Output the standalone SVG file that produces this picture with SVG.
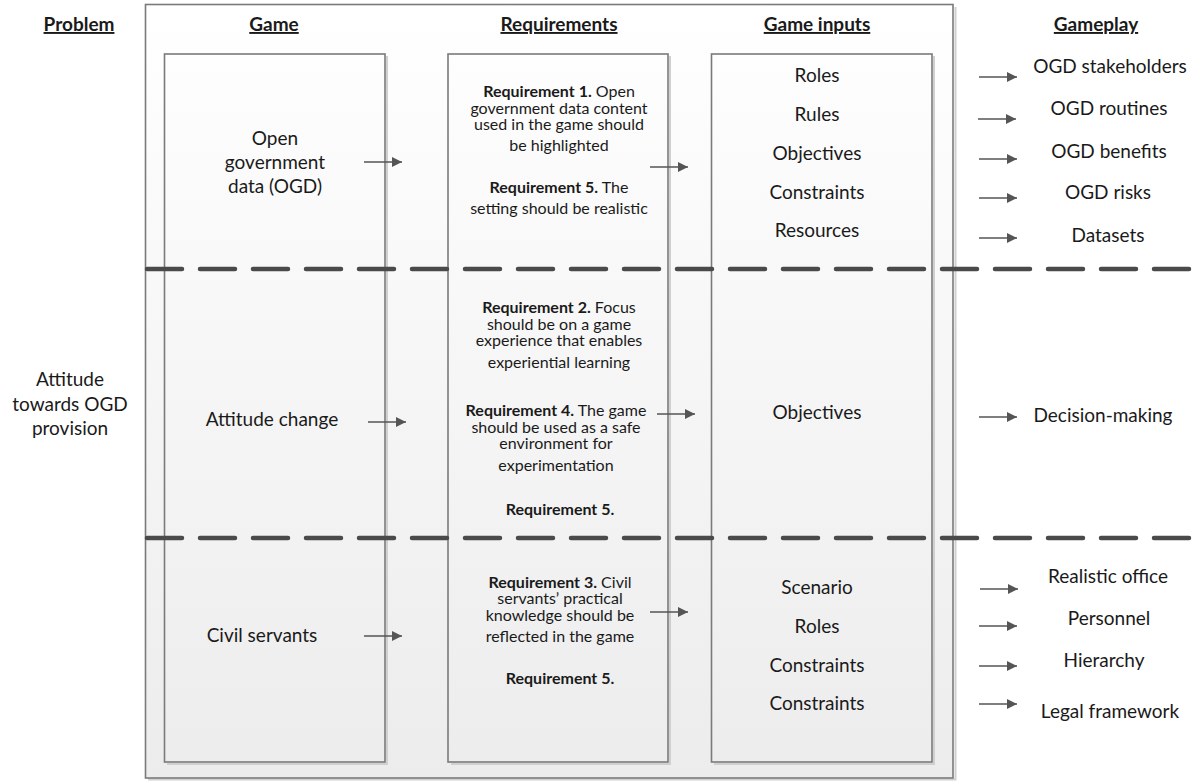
<svg xmlns="http://www.w3.org/2000/svg" width="1197" height="781" viewBox="0 0 1197 781">
<style>
text{font-family:Lato,"Open Sans","Liberation Sans",sans-serif;fill:#1a1a1a;text-anchor:middle}
.h{font-size:19px;font-weight:bold;text-decoration:underline}
.t{font-size:19px}
.r{font-size:16px}
.b{font-weight:bold}
.box{fill:url(#g);stroke:#7a7a7a;stroke-width:1.6}
.sh{fill:none;stroke:#d0d0d0;stroke-width:2}
.a{stroke:#555;stroke-width:1.3;fill:none;marker-end:url(#ah)}
.d{stroke:#4a4a4a;stroke-width:4.5;stroke-dasharray:35 18;stroke-linecap:round;fill:none}
</style>
<defs>
<linearGradient id="g" gradientUnits="userSpaceOnUse" x1="0" y1="0" x2="0" y2="781">
<stop offset="0" stop-color="#ffffff"/>
<stop offset="1" stop-color="#ececec"/>
</linearGradient>
<marker id="ah" viewBox="0 0 10 10" refX="10" refY="5" markerWidth="10" markerHeight="10" markerUnits="userSpaceOnUse" orient="auto">
<path d="M0,0 L10,5 L0,10 z" fill="#555"/>
</marker>
</defs>
<rect width="1197" height="781" fill="#fff"/>

<g id="frame">
<path class="sh" d="M148,779.5 H955.5 V7"/>
<rect class="box" x="145.5" y="4.5" width="807.5" height="773.5"/>
</g>

<g id="headers">
<text class="h" x="79" y="31">Problem</text>
<text class="h" x="274" y="31">Game</text>
<text class="h" x="559" y="31">Requirements</text>
<text class="h" x="817" y="31">Game inputs</text>
<text class="h" x="1096" y="31">Gameplay</text>
</g>

<g id="game-box">
<path class="sh" d="M167,764 H387 V56"/>
<rect class="box" x="164.5" y="54" width="220.5" height="708"/>
</g>
<g id="req-box">
<path class="sh" d="M451,764 H670 V56"/>
<rect class="box" x="448" y="54" width="220" height="708"/>
</g>
<g id="inputs-box">
<path class="sh" d="M714,764 H934 V56"/>
<rect class="box" x="711.5" y="54" width="220.5" height="708"/>
</g>

<g id="dividers">
<path class="d" d="M147,269 H1197"/>
<path class="d" d="M147,538 H1197"/>
</g>

<g id="problem">
<text class="t" x="70" y="386">Attitude</text>
<text class="t" x="70" y="411">towards OGD</text>
<text class="t" x="70" y="435">provision</text>
</g>

<g id="game-ogd">
<text class="t" x="275" y="145">Open</text>
<text class="t" x="275" y="169">government</text>
<text class="t" x="275" y="193">data (OGD)</text>
</g>
<g id="game-attitude">
<text class="t" x="272" y="426">Attitude change</text>
</g>
<g id="game-civil">
<text class="t" x="262" y="642">Civil servants</text>
</g>

<g id="req-ogd">
<text class="r" x="559" y="97"><tspan class="b">Requirement 1.</tspan> Open</text>
<text class="r" x="559" y="114">government data content</text>
<text class="r" x="559" y="130">used in the game should</text>
<text class="r" x="559" y="151">be highlighted</text>
<text class="r" x="559" y="193"><tspan class="b">Requirement 5.</tspan> The</text>
<text class="r" x="559" y="214">setting should be realistic</text>
</g>
<g id="req-attitude">
<text class="r" x="559" y="313"><tspan class="b">Requirement 2.</tspan> Focus</text>
<text class="r" x="559" y="330">should be on a game</text>
<text class="r" x="559" y="346">experience that enables</text>
<text class="r" x="559" y="368">experiential learning</text>
<text class="r" x="556" y="416"><tspan class="b">Requirement 4.</tspan> The game</text>
<text class="r" x="556" y="433">should be used as a safe</text>
<text class="r" x="556" y="449">environment for</text>
<text class="r" x="556" y="471">experimentation</text>
<text class="r b" x="560" y="515">Requirement 5.</text>
</g>
<g id="req-civil">
<text class="r" x="560" y="588"><tspan class="b">Requirement 3.</tspan> Civil</text>
<text class="r" x="560" y="604">servants’ practical</text>
<text class="r" x="560" y="621">knowledge should be</text>
<text class="r" x="560" y="642">reflected in the game</text>
<text class="r b" x="560" y="684">Requirement 5.</text>
</g>

<g id="inputs-ogd">
<text class="t" x="817" y="82">Roles</text>
<text class="t" x="817" y="121">Rules</text>
<text class="t" x="817" y="160">Objectives</text>
<text class="t" x="817" y="199">Constraints</text>
<text class="t" x="817" y="237">Resources</text>
</g>
<g id="inputs-attitude">
<text class="t" x="817" y="419">Objectives</text>
</g>
<g id="inputs-civil">
<text class="t" x="817" y="594">Scenario</text>
<text class="t" x="817" y="633">Roles</text>
<text class="t" x="817" y="672">Constraints</text>
<text class="t" x="817" y="710">Constraints</text>
</g>

<g id="gameplay-ogd">
<text class="t" x="1110" y="73">OGD stakeholders</text>
<text class="t" x="1109" y="115">OGD routines</text>
<text class="t" x="1109" y="158">OGD benefits</text>
<text class="t" x="1108" y="199">OGD risks</text>
<text class="t" x="1108" y="242">Datasets</text>
</g>
<g id="gameplay-attitude">
<text class="t" x="1103" y="422">Decision-making</text>
</g>
<g id="gameplay-civil">
<text class="t" x="1108" y="583">Realistic office</text>
<text class="t" x="1109" y="625">Personnel</text>
<text class="t" x="1104" y="667">Hierarchy</text>
<text class="t" x="1110" y="718">Legal framework</text>
</g>

<g id="connectors">
<path class="a" d="M364,162 H402"/>
<path class="a" d="M650,167 H688"/>
<path class="a" d="M368,422 H406"/>
<path class="a" d="M657,414 H695"/>
<path class="a" d="M364,636 H402"/>
<path class="a" d="M650,612 H688"/>
<path class="a" d="M979,77 H1017"/>
<path class="a" d="M978,119 H1016"/>
<path class="a" d="M979,159 H1017"/>
<path class="a" d="M979,198 H1017"/>
<path class="a" d="M979,238 H1017"/>
<path class="a" d="M979,417 H1017"/>
<path class="a" d="M980,589 H1018"/>
<path class="a" d="M979,626 H1017"/>
<path class="a" d="M979,666 H1017"/>
<path class="a" d="M979,704 H1017"/>
</g>
</svg>
